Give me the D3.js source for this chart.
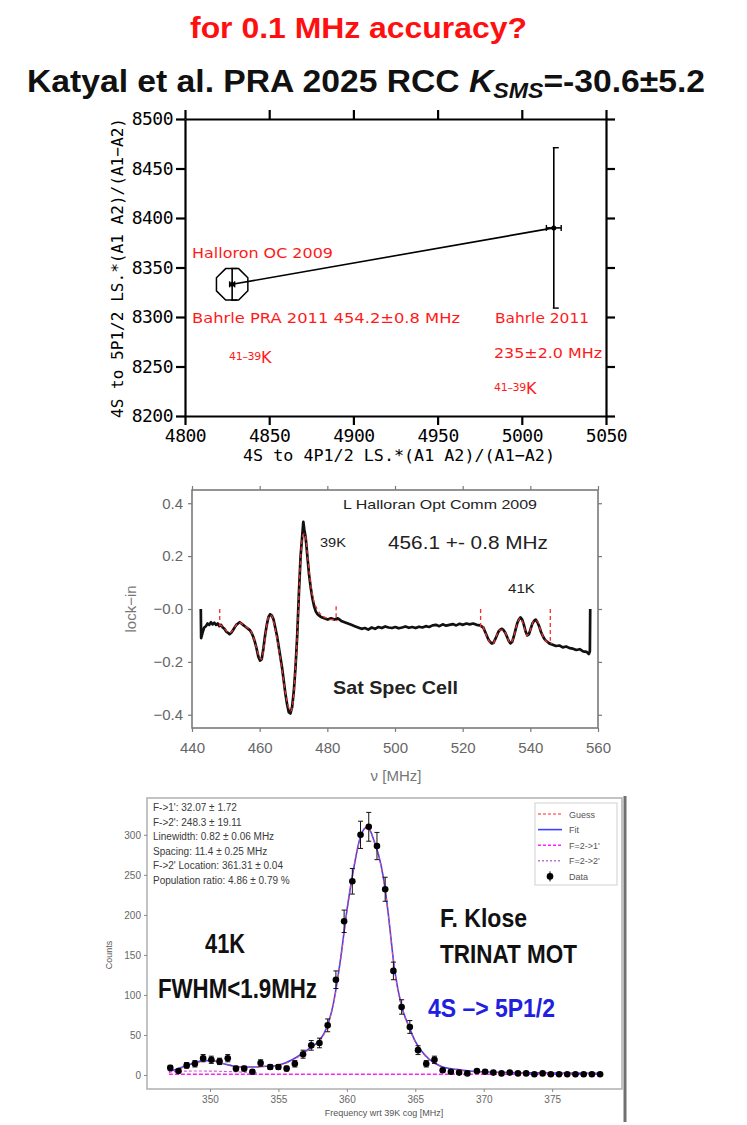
<!DOCTYPE html>
<html>
<head>
<meta charset="utf-8">
<script src="https://cdn.jsdelivr.net/npm/d3@7"></script>
<style>
  body { margin: 0; background: #fff; }
  svg { display: block; }
</style>
</head>
<body>
<svg id="slide" width="747" height="1125"></svg>
<script>
// ==========================================================================
// DATA
// ==========================================================================

// top panel: King-plot style comparison
var isoNames = ["Halloron OC 2009", "Bahrle 2011"];
var isoX = [4828, 5019];
var isoXErr = [1.5, 4.4];
var isoY = [8333, 8390];
var isoYErr = [16, 81];
var topXTicks = [4800, 4850, 4900, 4950, 5000, 5050];
var topYTicks = [8200, 8250, 8300, 8350, 8400, 8450, 8500];

// middle panel: sat spec lock-in trace [nu MHz, signal]
var lockTrace = [
  [442.6, 0.00], [442.7, -0.11], [443.1, -0.09], [443.6, -0.07], [444.1, -0.065], [444.6, -0.055],
  [445.1, -0.06], [445.6, -0.05], [446.1, -0.058], [446.6, -0.052], [447.1, -0.06], [447.6, -0.055],
  [448.1, -0.065], [448.6, -0.06], [449.1, -0.07], [449.6, -0.075], [450.1, -0.085], [450.6, -0.09],
  [451.1, -0.095], [451.6, -0.09], [452.1, -0.08], [452.6, -0.07], [453.1, -0.06], [453.6, -0.055],
  [454.1, -0.05], [454.6, -0.055], [455.1, -0.06], [455.6, -0.065], [456.1, -0.07], [456.6, -0.075],
  [457.1, -0.08], [457.6, -0.09], [458.1, -0.105], [458.6, -0.125], [459.1, -0.15], [459.6, -0.18],
  [460.1, -0.195], [460.6, -0.19], [461.1, -0.15], [461.6, -0.1], [462.1, -0.06], [462.6, -0.03],
  [463.1, -0.02], [463.6, -0.025], [464.1, -0.04], [464.6, -0.07], [465.1, -0.1], [465.6, -0.14],
  [466.1, -0.18], [466.6, -0.22], [467.1, -0.27], [467.6, -0.32], [468.1, -0.36], [468.6, -0.39],
  [469.1, -0.395], [469.6, -0.37], [470.1, -0.31], [470.6, -0.22], [471.1, -0.1], [471.6, 0.06],
  [472.1, 0.2], [472.6, 0.28], [472.9, 0.33], [473.2, 0.3], [473.6, 0.27], [474.1, 0.2],
  [474.6, 0.13], [475.1, 0.08], [475.6, 0.04], [476.1, 0.01], [476.6, -0.01], [477.1, -0.02],
  [477.6, -0.025], [478.1, -0.03], [479.1, -0.035], [480.1, -0.04], [481.1, -0.035], [482.1, -0.04],
  [483.1, -0.035], [484.1, -0.045], [485.1, -0.05], [486.1, -0.055], [487.1, -0.06], [488.1, -0.065],
  [489.1, -0.07], [490.1, -0.075], [491.1, -0.072], [492.1, -0.078], [493.1, -0.07], [494.1, -0.075],
  [495.1, -0.068], [496.1, -0.072], [497.1, -0.066], [498.1, -0.07], [499.1, -0.072], [500.1, -0.068],
  [501.1, -0.073], [502.1, -0.07], [503.1, -0.066], [504.1, -0.071], [505.1, -0.068], [506.1, -0.072],
  [507.1, -0.067], [508.1, -0.07], [509.1, -0.065], [510.1, -0.068], [511.1, -0.062], [512.1, -0.06],
  [513.1, -0.065], [514.1, -0.058], [515.1, -0.063], [516.1, -0.06], [517.1, -0.057], [518.1, -0.062],
  [519.1, -0.056], [520.1, -0.06], [521.1, -0.055], [522.1, -0.058], [523.1, -0.055], [524.1, -0.06],
  [525.1, -0.062], [526.1, -0.07], [526.6, -0.085], [527.1, -0.1], [527.6, -0.115], [528.1, -0.125],
  [528.6, -0.13], [529.1, -0.128], [529.6, -0.115], [530.1, -0.1], [530.6, -0.085], [531.1, -0.078],
  [531.6, -0.075], [532.1, -0.08], [532.6, -0.09], [533.1, -0.105], [533.6, -0.12], [534.1, -0.13],
  [534.6, -0.125], [535.1, -0.105], [535.6, -0.08], [536.1, -0.055], [536.6, -0.04], [537.1, -0.032],
  [537.6, -0.04], [538.1, -0.06], [538.6, -0.085], [539.1, -0.1], [539.6, -0.095], [540.1, -0.075],
  [540.6, -0.055], [541.1, -0.045], [541.6, -0.04], [542.1, -0.05], [542.6, -0.065], [543.1, -0.085],
  [543.6, -0.1], [544.1, -0.112], [544.6, -0.12], [545.1, -0.125], [545.6, -0.13], [546.6, -0.135],
  [547.6, -0.14], [548.6, -0.138], [549.6, -0.145], [550.6, -0.142], [551.6, -0.148], [552.6, -0.15],
  [553.6, -0.155], [554.6, -0.152], [555.6, -0.16], [556.6, -0.162], [557.3, -0.17], [557.6, -0.16],
  [557.7, 0.0]
];
var fit39 = [
  [448, -0.06], [449, -0.065], [450, -0.08], [451, -0.09], [452, -0.082], [453, -0.062], [454, -0.052],
  [455, -0.058], [456, -0.068], [457, -0.078], [458, -0.1], [459, -0.145], [460, -0.185], [460.6, -0.19],
  [461.2, -0.15], [462, -0.07], [462.8, -0.025], [463.5, -0.025], [464.5, -0.07], [465.5, -0.14],
  [466.5, -0.22], [467.5, -0.31], [468.5, -0.37], [469.2, -0.385], [469.8, -0.36], [470.5, -0.24],
  [471.2, -0.08], [472, 0.17], [472.8, 0.28], [473.4, 0.285], [474, 0.22], [475, 0.1], [476, 0.03],
  [477, 0.0], [478, -0.02], [479, -0.03], [480, -0.035], [481, -0.04], [482, -0.04], [483, -0.045]
];
var fit41 = [
  [526, -0.065], [527, -0.1], [528, -0.125], [529, -0.13], [530, -0.1], [531, -0.08], [532, -0.08],
  [533, -0.1], [534, -0.128], [535, -0.11], [536, -0.06], [537, -0.035], [538, -0.06], [539, -0.1],
  [540, -0.08], [541, -0.045], [542, -0.045], [543, -0.08], [544, -0.11], [545, -0.125], [546.5, -0.13]
];
// fit window markers [nu, top, bottom]
var fitBounds = [[448.2, 0.0, -0.065], [482.6, 0.01, -0.045], [525.3, 0.0, -0.07], [545.9, 0.0, -0.12]];
var midXTicks = [440, 460, 480, 500, 520, 540, 560];
var midYTicks = [-0.4, -0.2, 0, 0.2, 0.4];
var midYLabels = ["\u22120.4", "\u22120.2", "\u22120.0", "0.2", "0.4"];

// bottom panel: MOT scan
var motFreq = [347.1, 347.7, 348.3, 348.9, 349.5, 350.1, 350.7, 351.3, 351.9, 352.5,
  353.1, 353.7, 354.4, 355.0, 355.6, 356.2, 356.8, 357.4, 358.0, 358.6,
  359.2, 359.8, 360.4, 361.0, 361.6, 362.2, 362.8, 363.4, 364.0, 364.6,
  365.2, 365.8, 366.4, 367.0, 367.6, 368.2, 368.8, 369.5, 370.1, 370.7,
  371.3, 371.9, 372.5, 373.1, 373.7, 374.3, 374.9, 375.5, 376.1, 376.7,
  377.3, 377.9, 378.5];
var motCounts = [9, 5, 12, 14, 21, 19, 17, 21, 8, 8,
  4, 15, 10, 10, 8, 14, 26, 37, 40, 62,
  119, 192, 242, 300, 310, 286, 232, 130, 85, 60,
  31, 14, 19, 6, 4, 3, 2, 5, 4, 3,
  2, 3, 2, 2, 1, 2, 1, 1, 1, 1,
  1, 1, 1];
var motErr = [3, 2, 3.5, 4, 4.5, 4.5, 4, 4.5, 3, 3,
  2, 4, 3, 3, 3, 4, 5, 6, 6, 8,
  11, 14, 16, 17, 18, 17, 15, 11, 9, 8,
  5.5, 4, 4.5, 2.5, 2, 2, 1.5, 2, 2, 1.5,
  1.5, 1.5, 1.5, 1.5, 1, 1.5, 1, 1, 1, 1,
  1, 1, 1];
var fitCurve = [
  [347.0, 4], [347.5, 7], [348.0, 10], [348.5, 13], [349.0, 16], [349.5, 18], [350.0, 18], [350.5, 17],
  [351.0, 14], [351.5, 12], [352.0, 10], [352.5, 10], [353.0, 10], [353.5, 10], [354.0, 11], [354.5, 11],
  [355.0, 12.5], [355.5, 15], [356.0, 19], [356.5, 24], [357.0, 30], [357.5, 36], [358.0, 43], [358.5, 58],
  [359.0, 88], [359.5, 140], [360.0, 205], [360.5, 258], [361.0, 298], [361.5, 310], [362.0, 292],
  [362.5, 262], [362.8, 232], [363.0, 205], [363.5, 130], [364.0, 86], [364.5, 62], [365.0, 42],
  [365.5, 29], [366.0, 20], [366.5, 14], [367.0, 10], [368.0, 7], [369.0, 5], [370.0, 4], [372.0, 3],
  [375.0, 2.5], [378.5, 2]
];
var guessCurve = [
  [347.0, 3], [348.0, 9], [349.0, 15], [350.0, 18], [351.0, 14], [352.0, 10], [353.0, 9.5], [354.0, 10.5],
  [355.0, 12], [356.0, 18], [357.0, 29], [358.0, 42], [358.5, 57], [359.0, 87], [359.5, 138], [360.0, 203],
  [360.5, 257], [361.0, 297], [361.5, 309], [362.0, 291], [362.5, 261], [362.8, 231], [363.0, 204],
  [363.5, 129], [364.0, 85], [364.5, 61], [365.0, 41], [365.5, 28], [366.0, 19], [367.0, 9.5], [368.0, 6.5],
  [370.0, 3.5], [375.0, 2.2], [378.5, 1.8]
];
var comp21 = [[347.0, 1], [378.5, 1]];
var comp22 = [[347.0, 4], [349.0, 5], [351.0, 4.5], [353.5, 2.5]];
var motXTicks = [350, 355, 360, 365, 370, 375];
var motYTicks = [0, 50, 100, 150, 200, 250, 300];
var statLines = [
  "F->1': 32.07 \u00b1 1.72",
  "F->2': 248.3 \u00b1 19.11",
  "Linewidth: 0.82 \u00b1 0.06 MHz",
  "Spacing: 11.4 \u00b1 0.25 MHz",
  "F->2' Location: 361.31 \u00b1 0.04",
  "Population ratio: 4.86 \u00b1 0.79 %"
];
var legendNames = ["Guess", "Fit", "F=2->1'", "F=2->2'", "Data"];

// ==========================================================================
// HELPERS
// ==========================================================================

var svg = d3.select("#slide");
svg.append("rect").attr("width", 747).attr("height", 1125).attr("fill", "#fff");

function label(g, str, x, y, o) {
  var t = g.append("text").attr("x", x).attr("y", y).text(str)
    .attr("font-family", o.family || "Liberation Sans, Arial, sans-serif")
    .attr("font-size", o.size)
    .attr("fill", o.fill || "#000");
  if (o.bold) t.attr("font-weight", "bold");
  if (o.anchor) t.attr("text-anchor", o.anchor);
  if (o.len) t.attr("textLength", o.len).attr("lengthAdjust", "spacingAndGlyphs");
  return t;
}

// ==========================================================================
// HEADINGS
// ==========================================================================

label(svg, "for 0.1 MHz accuracy?", 190, 38, {size: 29, bold: true, fill: "#ff1010", len: 337});

var kat = svg.append("text").attr("x", 27).attr("y", 92)
  .attr("font-family", "Liberation Sans, Arial, sans-serif").attr("font-weight", "bold")
  .attr("font-size", 32).attr("fill", "#111")
  .attr("textLength", 678).attr("lengthAdjust", "spacingAndGlyphs");
kat.append("tspan").text("Katyal et al. PRA 2025 RCC ");
kat.append("tspan").attr("font-style", "italic").text("K");
kat.append("tspan").attr("font-style", "italic").attr("font-size", 22).attr("dy", 6).text("SMS");
kat.append("tspan").attr("dy", -6).text("=-30.6\u00b15.2");

// ==========================================================================
// TOP PANEL
// ==========================================================================

function drawTop() {
  var x = d3.scaleLinear().domain([4800, 5050]).range([185, 606]);
  var y = d3.scaleLinear().domain([8200, 8500]).range([416, 119]);
  var g = svg.append("g");
  var mono = "DejaVu Sans Mono, monospace";

  g.append("g").attr("transform", "translate(0,416)")
    .call(d3.axisBottom(x).tickValues(topXTicks).tickSize(9).tickSizeOuter(0).tickPadding(4).tickFormat(d3.format("d")));
  g.append("g").attr("transform", "translate(0,119)")
    .call(d3.axisTop(x).tickValues(topXTicks).tickSize(9).tickSizeOuter(0).tickFormat(""));
  g.append("g").attr("transform", "translate(185,0)")
    .call(d3.axisLeft(y).tickValues(topYTicks).tickSize(9).tickSizeOuter(0).tickPadding(3).tickFormat(d3.format("d")));
  g.append("g").attr("transform", "translate(606,0)")
    .call(d3.axisRight(y).tickValues(topYTicks).tickSize(9).tickSizeOuter(0).tickFormat(""));
  g.selectAll(".domain, .tick line").attr("stroke", "#000").attr("stroke-width", 2.2);
  g.selectAll(".tick text").attr("font-family", mono).attr("font-size", 18).attr("fill", "#000")
    .attr("letter-spacing", -0.5);

  label(g, "4S to 4P1/2 LS.*(A1 A2)/(A1\u2212A2)", 399, 461, {size: 16, family: mono, anchor: "middle", len: 312});
  label(g, "4S to 5P1/2 LS.*(A1 A2)/(A1\u2212A2)", 0, 0, {size: 16, family: mono, anchor: "middle", len: 300})
    .attr("transform", "translate(123,268) rotate(-90)");

  // connecting line
  g.append("path")
    .attr("d", d3.line()(isoX.map(function(v, i) { return [x(v), y(isoY[i])]; })))
    .attr("stroke", "#000").attr("stroke-width", 1.6).attr("fill", "none");

  isoX.forEach(function(v, i) {
    var cx = x(v), cy = y(isoY[i]);
    var y0 = y(isoY[i] - isoYErr[i]), y1 = y(isoY[i] + isoYErr[i]);
    var x0 = x(v - isoXErr[i]), x1 = x(v + isoXErr[i]);
    g.append("line").attr("x1", cx).attr("x2", cx).attr("y1", y0).attr("y2", y1).attr("stroke", "#000").attr("stroke-width", 1.6);
    g.append("line").attr("x1", x0).attr("x2", x1).attr("y1", cy).attr("y2", cy).attr("stroke", "#000").attr("stroke-width", 1.6);
    [y0, y1].forEach(function(yy) {
      g.append("line").attr("x1", cx - 1).attr("x2", cx + 5).attr("y1", yy).attr("y2", yy).attr("stroke", "#000").attr("stroke-width", 1.4);
    });
    [x0, x1].forEach(function(xx) {
      g.append("line").attr("x1", xx).attr("x2", xx).attr("y1", cy - 3).attr("y2", cy + 3).attr("stroke", "#000").attr("stroke-width", 1.4);
    });
    g.append("circle").attr("cx", cx).attr("cy", cy).attr("r", 2.5).attr("fill", "#000");
  });

  // octagon marker around the first point
  var ocx = x(isoX[0]), ocy = y(isoY[0]);
  var oct = d3.range(8).map(function(k) {
    var a = Math.PI / 8 + k * Math.PI / 4;
    return [ocx + 17 * Math.cos(a), ocy + 17 * Math.sin(a)];
  });
  g.append("path").attr("d", d3.line().curve(d3.curveLinearClosed)(oct))
    .attr("fill", "none").attr("stroke", "#000").attr("stroke-width", 1.5);

  var red = "#ff1a1a", sf = "DejaVu Sans, sans-serif";
  label(g, isoNames[0], 192, 258, {size: 14, family: sf, fill: red, len: 141});
  label(g, "Bahrle PRA 2011 454.2\u00b10.8 MHz", 192, 323, {size: 14, family: sf, fill: red, len: 268});
  label(g, isoNames[1], 495, 323, {size: 14, family: sf, fill: red, len: 94});
  label(g, "235\u00b12.0 MHz", 494, 358, {size: 14, family: sf, fill: red, len: 108});
  [[229, 360], [494, 391]].forEach(function(p) {
    var t = g.append("text").attr("x", p[0]).attr("y", p[1]).attr("font-family", sf).attr("fill", red);
    t.append("tspan").attr("font-size", 11).attr("letter-spacing", -0.3).text("41\u201339");
    t.append("tspan").attr("font-size", 16).attr("dy", 3).text("K");
  });
}

// ==========================================================================
// MIDDLE PANEL
// ==========================================================================

function drawMiddle() {
  var x = d3.scaleLinear().domain([440, 560]).range([192, 598]);
  var y = d3.scaleLinear().domain([-0.45, 0.45]).range([728, 490]);
  var g = svg.append("g");
  var gray = "#7a7a7a";

  g.append("rect").attr("x", 192).attr("y", 490).attr("width", 406).attr("height", 238)
    .attr("fill", "none").attr("stroke", gray).attr("stroke-width", 1.6);
  g.append("g").attr("transform", "translate(0,728)")
    .call(d3.axisBottom(x).tickValues(midXTicks).tickSize(4).tickSizeOuter(0).tickPadding(10));
  g.append("g").attr("transform", "translate(0,490)")
    .call(d3.axisTop(x).tickValues(midXTicks).tickSize(4).tickSizeOuter(0).tickFormat(""));
  g.append("g").attr("transform", "translate(192,0)")
    .call(d3.axisLeft(y).tickValues(midYTicks).tickSize(4).tickSizeOuter(0).tickPadding(5)
      .tickFormat(function(d, i) { return midYLabels[i]; }));
  g.append("g").attr("transform", "translate(598,0)")
    .call(d3.axisRight(y).tickValues(midYTicks).tickSize(4).tickSizeOuter(0).tickFormat(""));
  g.selectAll(".domain").remove();
  g.selectAll(".tick line").attr("stroke", gray).attr("stroke-width", 1.2);
  g.selectAll(".tick text").attr("font-family", "Liberation Sans, Arial, sans-serif")
    .attr("font-size", 15).attr("fill", "#666");

  label(g, "lock\u2212in", 0, 0, {size: 15, fill: "#777", anchor: "middle"})
    .attr("transform", "translate(136,609) rotate(-90)");
  label(g, "\u03bd  [MHz]", 396, 781, {size: 15, fill: "#777", anchor: "middle"});

  var line = d3.line().x(function(d) { return x(d[0]); }).y(function(d) { return y(d[1]); });
  g.append("path").attr("d", line(lockTrace)).attr("fill", "none")
    .attr("stroke", "#111").attr("stroke-width", 2.7).attr("stroke-linejoin", "round");
  [fit39, fit41].forEach(function(f) {
    g.append("path").attr("d", line.curve(d3.curveMonotoneX)(f)).attr("fill", "none")
      .attr("stroke", "#f03030").attr("stroke-width", 1.3).attr("stroke-dasharray", "4,3");
  });
  fitBounds.forEach(function(b) {
    g.append("line").attr("x1", x(b[0])).attr("x2", x(b[0])).attr("y1", y(b[1])).attr("y2", y(b[2]))
      .attr("stroke", "#f03030").attr("stroke-width", 1.3).attr("stroke-dasharray", "4,3");
  });

  label(g, "L Halloran Opt Comm 2009", 343, 509, {size: 13, fill: "#222", len: 194});
  label(g, "39K", 320, 547, {size: 12, fill: "#222", len: 26});
  label(g, "456.1 +- 0.8 MHz", 388, 549, {size: 19, fill: "#222", len: 160});
  label(g, "41K", 508, 593, {size: 13, fill: "#222", len: 27});
  label(g, "Sat Spec Cell", 333, 694, {size: 19, bold: true, fill: "#222", len: 125});
}

// ==========================================================================
// BOTTOM PANEL
// ==========================================================================

function drawBottom() {
  var x = d3.scaleLinear().domain([345.4, 380.1]).range([147, 622]);
  var y = d3.scaleLinear().domain([-17.5, 346]).range([1089, 798]);
  var g = svg.append("g");

  g.append("rect").attr("x", 147).attr("y", 798).attr("width", 475).attr("height", 291)
    .attr("fill", "none").attr("stroke", "#b5b5b5").attr("stroke-width", 1.6);
  g.append("line").attr("x1", 625).attr("x2", 625).attr("y1", 796).attr("y2", 1122)
    .attr("stroke", "#707070").attr("stroke-width", 3);

  g.append("g").attr("transform", "translate(0,1089)")
    .call(d3.axisBottom(x).tickValues(motXTicks).tickSize(3).tickSizeOuter(0).tickPadding(4));
  g.append("g").attr("transform", "translate(147,0)")
    .call(d3.axisLeft(y).tickValues(motYTicks).tickSize(3).tickSizeOuter(0).tickPadding(3));
  g.selectAll(".domain").remove();
  g.selectAll(".tick line").attr("stroke", "#888");
  g.selectAll(".tick text").attr("font-family", "Liberation Sans, Arial, sans-serif")
    .attr("font-size", 10).attr("fill", "#666");

  label(g, "Counts", 0, 0, {size: 9, fill: "#555", anchor: "middle"})
    .attr("transform", "translate(112,955) rotate(-90)");
  label(g, "Frequency wrt 39K cog [MHz]", 384, 1116, {size: 9, fill: "#555", anchor: "middle"});

  var line = d3.line().x(function(d) { return x(d[0]); }).y(function(d) { return y(d[1]); })
    .curve(d3.curveMonotoneX);
  g.append("path").attr("d", line(comp22)).attr("fill", "none").attr("stroke", "#d060d0")
    .attr("stroke-width", 1.2).attr("stroke-dasharray", "3,2");
  g.append("path").attr("d", line(comp21)).attr("fill", "none").attr("stroke", "#ff20ff")
    .attr("stroke-width", 1.4).attr("stroke-dasharray", "4,2");
  g.append("path").attr("d", line(fitCurve)).attr("fill", "none").attr("stroke", "#4040ff")
    .attr("stroke-width", 1.6);
  g.append("path").attr("d", line(guessCurve)).attr("fill", "none").attr("stroke", "#ff5050")
    .attr("stroke-width", 1.1).attr("stroke-dasharray", "3,3");

  motFreq.forEach(function(f, i) {
    var cx = x(f);
    var top = y(motCounts[i] + motErr[i]), bot = y(motCounts[i] - motErr[i]);
    g.append("line").attr("x1", cx).attr("x2", cx).attr("y1", top).attr("y2", bot).attr("stroke", "#111").attr("stroke-width", 1);
    [top, bot].forEach(function(yy) {
      g.append("line").attr("x1", cx - 2.5).attr("x2", cx + 2.5).attr("y1", yy).attr("y2", yy).attr("stroke", "#111").attr("stroke-width", 1);
    });
    g.append("circle").attr("cx", cx).attr("cy", y(motCounts[i])).attr("r", 3.3).attr("fill", "#000");
  });

  statLines.forEach(function(s, i) {
    label(g, s, 153, 811 + i * 14.6, {size: 10, fill: "#3a3a3a"});
  });

  // legend
  var lg = g.append("g");
  lg.append("rect").attr("x", 535).attr("y", 803).attr("width", 82).attr("height", 82)
    .attr("fill", "#fff").attr("stroke", "#d0d0d0");
  var styles = [
    {stroke: "#ff7070", dash: "3,2"}, {stroke: "#4040ff", dash: null},
    {stroke: "#ff20ff", dash: "3,2"}, {stroke: "#c070d0", dash: "2,2"}, null
  ];
  legendNames.forEach(function(n, i) {
    var ly = 814 + i * 15.6;
    if (styles[i]) {
      lg.append("line").attr("x1", 538).attr("x2", 562).attr("y1", ly).attr("y2", ly)
        .attr("stroke", styles[i].stroke).attr("stroke-width", 1.6).attr("stroke-dasharray", styles[i].dash);
    } else {
      lg.append("line").attr("x1", 550).attr("x2", 550).attr("y1", ly - 5).attr("y2", ly + 5).attr("stroke", "#000");
      lg.append("circle").attr("cx", 550).attr("cy", ly).attr("r", 3.3).attr("fill", "#000");
    }
    label(lg, n, 569, ly + 3.5, {size: 9, fill: "#555"});
  });

  label(g, "41K", 205, 953, {size: 27, bold: true, fill: "#111", len: 40});
  label(g, "FWHM<1.9MHz", 158, 998, {size: 27, bold: true, fill: "#111", len: 159});
  label(g, "F. Klose", 440, 927, {size: 25, bold: true, fill: "#111", len: 87});
  label(g, "TRINAT MOT", 440, 963, {size: 25, bold: true, fill: "#111", len: 137});
  label(g, "4S \u2013> 5P1/2", 428, 1017, {size: 25, bold: true, fill: "#2020e0", len: 127});
}

drawTop();
drawMiddle();
drawBottom();
</script>
</body>
</html>
